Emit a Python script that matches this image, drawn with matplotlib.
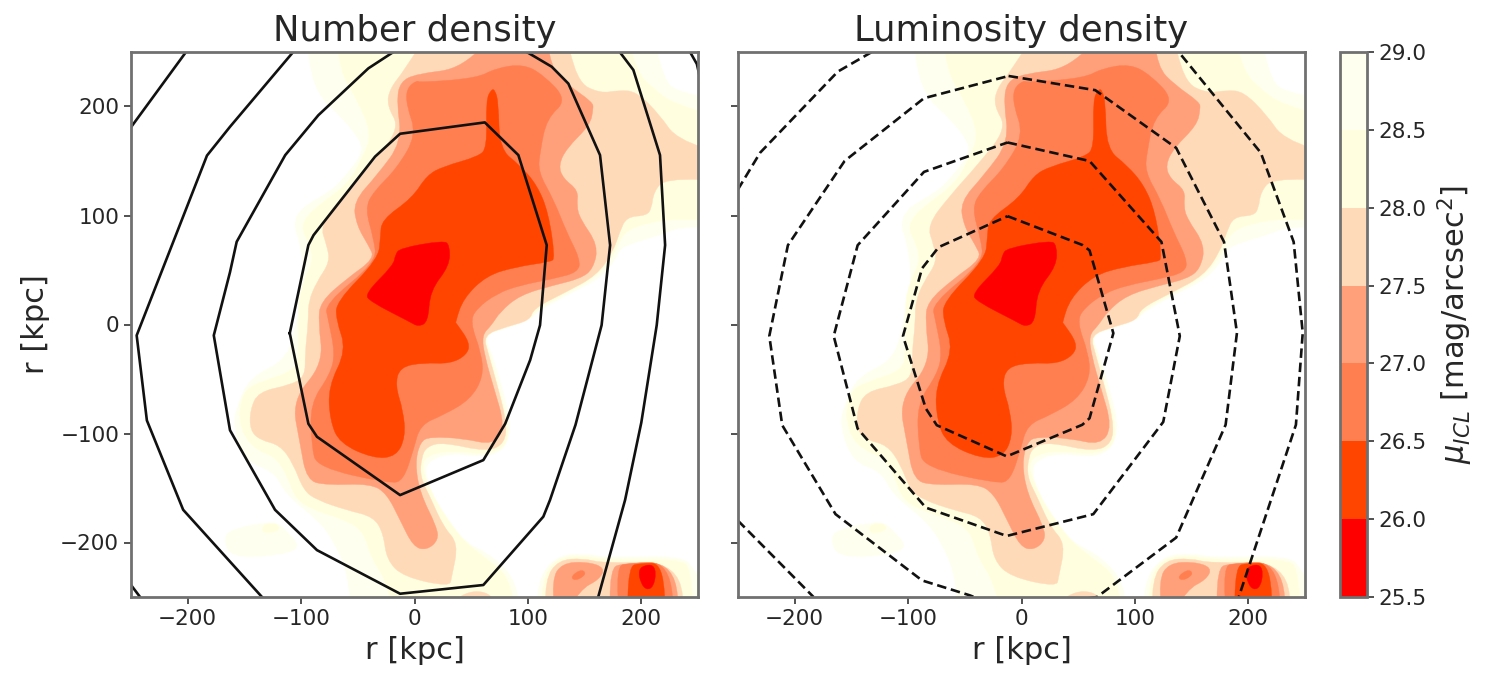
import numpy as np
import matplotlib
matplotlib.use('Agg')
import matplotlib.pyplot as plt
from matplotlib.colors import ListedColormap, BoundaryNorm
from matplotlib.cm import ScalarMappable
from matplotlib.path import Path
from matplotlib.patches import PathPatch

levels = [25.5, 26.0, 26.5, 27.0, 27.5, 28.0, 28.5, 29.0]
colors = ['red', 'orangered', 'coral', 'lightsalmon', 'peachpuff', 'lightyellow', 'ivory']
ticks_r = [-200, -100, 0, 100, 200]

# ICL map, outline of each surface brightness level in kpc
mu_290 = [
    [(-96.5,250),(-92,229),(-80,204),(-65.7,192),(-46.6,167.7),(-46.6,155.4),(-62.7,134),(-74.5,121.8),
     (-101,106.5),(-106.8,91),(-101,76),(-96.5,42),(-104,2),(-112.7,-32.6),(-145,-48),(-157,-75.5),
     (-159.8,-94),(-149,-125.8),(-123.4,-135),(-113.6,-156),(-84.4,-180),(-71.4,-198.5),(-58.4,-228.8),
     (-55,-250),(94,-250),(91,-238),(71.4,-213.6),(40,-197),(25.5,-176.4),(15,-155),(9,-134),(13.7,-124.4),
     (31.4,-118.3),(60.7,-121.4),(72.5,-118.3),(81,-110.6),(85.7,-90.8),(77,-57),(69.6,-29.6),(60.7,-9.7),
     (81,-3.5),(102,4),(107.7,11.6),(137,28.4),(163.6,42),(178,60.6),(181,69.7),(196,75.9),(216.5,82),
     (234,89.6),(250,89.6),(250,204.4),(231,213.6),(219.5,225.8),(207.7,250)],
    [(-169,-195),(-159,-187),(-123,-180),(-112,-190),(-100,-205),(-120,-212),(-162,-214)],
    [(108,-250),(108,-235),(125,-212),(150,-210),(170,-214),(236,-212),(247,-225),(250,-250)],
]
mu_285 = [
    [(-70,250),(-66,232),(-50,205),(-38,175),(-45,155),(-58,130),(-80,113),(-95,100),(-100,88),(-92,72),
     (-90,57),(-98,40),(-103,20),(-102,-25),(-105,-42),(-135,-52),(-150,-60),(-155,-80),(-152,-100),
     (-140,-115),(-122,-122),(-112,-140),(-105,-160),(-90,-170),(-60,-180),(-45,-190),(-38,-215),(-25,-235),
     (-15,-250),(90,-250),(85,-232),(60,-212),(45,-200),(30,-180),(15,-155),(6,-130),(12,-120),(31,-116),
     (62,-119),(75,-115),(82,-108),(83,-90),(74,-57),(67,-28),(61,-9.7),(81,-2.5),(102,5),(107,13),(134,29),
     (160.7,43),(178,66.7),(184,85),(208,94),(234,97),(250,94),(250,187.5),(228,202.8),(210.6,216.6),
     (196,232),(184,250)],
    [(-133,-183),(-122,-182),(-118,-188),(-128,-192),(-135,-190)],
    [(112,-250),(112,-235),(125,-214),(150,-212),(170,-216),(235,-215),(244,-225),(247,-250)],
]
mu_280 = [
    [(19.6,250),(-9.8,232),(-21.6,216.6),(-24.5,201),(-12.7,180),(-39,146),(-62.7,118.7),(-83.3,91),
     (-77.4,72.8),(-74.5,57.5),(-86.3,39),(-93.6,20.8),(-93.6,2.4),(-96.5,-26.5),(-96.5,-48),(-110,-55.6),
     (-137.7,-61.7),(-145,-78.5),(-145,-97),(-136.2,-106),(-118.6,-110.6),(-107,-127.5),(-98,-152),
     (-86.3,-161),(-59.8,-170.3),(-36,-176.4),(-27.5,-191.7),(-24.5,-216),(-9.8,-231.5),(31,-240.7),
     (32.8,-231.5),(38.7,-201),(25.5,-185.6),(13.7,-158),(5,-140),(6,-122),(10.8,-112),(25,-108),
     (63.7,-116.8),(80,-109),(81,-88),(72.5,-54),(65,-26.5),(60.7,-9.7),(81.3,-2),(102,4),(104.8,14.7),
     (134,30),(160.7,45),(175,66.7),(181,85),(187,98.8),(204.8,100),(209,106.5),(211,121.8),(221,134),
     (250,132),(250,154),(231,170),(216.5,192),(196,213.6),(181,215),(163.6,212),(143,222.7),(131,250)],
    [(17,-250),(40,-245),(70,-245),(78,-250)],
    [(116,-250),(115,-234.4),(126.8,-216),(149,-214.5),(166.5,-219),(234,-217.6),(238.6,-250)],
]
mu_275 = [
    [(81,250),(43,235),(2,230),(-12.7,222.7),(-15.7,204.4),(-11,167.7),(-33,137),(-54,112.6),(-51,91),
     (-40.7,72.8),(-35,60.6),(-59.8,42),(-83,20.8),(-84.8,2.4),(-80.4,-36),(-108,-69.4),(-101,-109),
     (-95,-143),(-77.4,-147.4),(-39,-146),(-24.5,-155),(-12.7,-179.5),(-1,-204),(10.8,-207),(21,-198),
     (19.6,-185.6),(5,-155),(0.5,-127.5),(5,-107.6),(13.7,-103),(43,-104.5),(69.6,-110.6),(80,-94),
     (69.6,-57),(62,-29.6),(59.3,-9.7),(68,-0.6),(75.4,11.6),(93,27),(122.5,36),(146,42),(157.7,51),
     (162,72.8),(146,97),(143,109),(144.5,123),(131,134),(127,146),(134,161.5),(154.8,183),(157.7,198),
     (157,204),(135,220),(120,236),(115,250)],
    [(121,-234.4),(129.8,-219),(151.8,-217.6),(168,-223),(163,-234),(146,-243),(125,-250)],
    [(172.4,-223.7),(184,-219),(229.8,-218.5),(234,-250),(172.4,-250)],
]
mu_270 = [
    [(4.85,222),(55,226),(71.4,235),(95.8,239),(113.6,229),(134.7,206),(116.6,189),(110.7,158.5),(109,140),
     (122.5,115),(134,85),(146,60),(144.5,48),(122.5,42),(93,36),(72.5,28.4),(54.8,14.7),(49,2.4),(59,-26.5),
     (60.7,-48),(49,-69),(25.5,-83),(5,-92),(-0.9,-115),(-9.8,-143),(-21.6,-146),(-86,-131),(-90.7,-112),
     (-92,-72.4),(-74.5,-46),(-70,-26.5),(-76,4),(-79,19),(-33.4,57.5),(-36,79),(-43.6,106.5),(-36,122),
     (-15.7,143),(1.9,174),(-7,201),(-7,216.6),(2,224)],
    [(137.7,-231.4),(146,-225),(151,-227),(149,-231.4),(141.5,-235)],
    [(178,-222),(188.6,-219),(225,-217.6),(229.8,-250),(181,-250)],
]
mu_265 = [
    [(68,216),(63,206),(64,162),(56,154),(25.5,145),(11,137),(-2,116),(-29,96),(-30,80.5),(-32,60),(-69,21),
     (-69,4),(-60,-23.5),(-76,-57),(-74.5,-88),(-66,-109),(-36,-123),(-16,-121),(-8,-103),(-10,-79),(-17,-56),
     (-13,-39),(8,-35),(31.4,-36),(46,-28),(49,-17),(37,1),(36,2),(43,24),(63.6,45),(90,53),(119.5,57.5),
     (124,60.6),(118,103),(108,128),(93,146),(75,161),(74,204),(71,215)],
    [(188.6,-222),(199,-219),(219.5,-219),(221.5,-250),(187.7,-250)],
]
mu_260 = [
    [(-13,70),(25.5,77),(31,73),(31,54),(13.7,31),(12,2.4),(3.4,-2),(-4,2.4),(-39,21),(-43.6,28.4),
     (-18.6,54.4),(-17,63.6)],
    [(197.4,-225),(203.3,-220.7),(210.6,-220.7),(213,-228.3),(210.6,-240.6),(204.8,-243.6),(199.5,-237.5)],
]
# darkest level last, painted on top of the lighter ones
icl_outlines = [(mu_290, 'ivory'), (mu_285, 'lightyellow'), (mu_280, 'peachpuff'), (mu_275, 'lightsalmon'),
                (mu_270, 'coral'), (mu_265, 'orangered'), (mu_260, 'red')]

# number density contours (left)
number_contours = [
    [(-110,-8),(-93.6,-91),(-86,-103),(-12.7,-156.5),(60.7,-124.4),(80,-91),(102,-32.6),(110.7,-0.6),
     (116.6,72.8),(91.6,155.4),(62,185.4),(-12.7,175),(-34.8,154),(-89,82),(-93.6,72.8),(-110,-8)],
    [(-18.6,250),(-40.7,235),(-84.8,192),(-114,155.4),(-156.8,75.9),(-162.7,48),(-177,-10),(-162.7,-97),
     (-123,-170),(-86,-207),(-12.7,-247),(60.7,-239),(113.6,-176.3),(119.5,-161),(142,-92),(165,-0.6),
     (172.5,72.8),(163.6,155.4),(135.7,221),(121,236.5),(99,250)],
    [(-107,250),(-162.7,181.4),(-183,155),(-245,-10),(-236,-88),(-204,-170),(-134.5,-250)],
    [(181,250),(193,233.5),(216.5,155.4),(221,72.8),(213.6,-0.6),(200,-90),(185.7,-161),(162,-250)],
    [(-201.5,250),(-250,181)],
    [(-250,-239),(-242,-250)],
    [(243,250),(249,239),(252,225)],
]
# luminosity density contours (right)
luminosity_contours = [
    [(-12.3,99.4),(53.6,73),(60,68),(81,-8),(60,-86),(53.6,-92),(-13,-121),(-74.7,-92.4),(-84.4,-77),
     (-104.5,-10.6),(-87.7,51.5),(-73,71),(-12.3,99.4)],
    [(-12.3,167),(60,150),(123.4,75.8),(139.6,-10.6),(125,-89.4),(63.3,-174),(-13,-194),(-84.4,-168),
     (-144.5,-95.5),(-165.6,-10.6),(-144.5,72.7),(-86,140),(-12.3,167)],
    [(-11.4,228),(65,215),(136.4,162),(178.6,75.8),(190,-7.6),(180,-92),(136.4,-195.5),(66.6,-250),(-13,-262),
     (-45.5,-248.5),(-87.7,-234.8),(-164,-174),(-211,-92.4),(-222.4,-10.6),(-206,72.7),(-156,150),(-86,207.6),
     (-11.4,228)],
    [(-132,250),(-162,232),(-230.5,157.6),(-250,124)],
    [(141,247),(211,157.6),(240,75.8),(248,-7.6),(242,-92),(191.6,-250)],
    [(-250,-180),(-183.4,-250)],
]

W, H = 1485, 673
plt.rcParams['font.family'] = 'DejaVu Sans'

def box(x0, y0, x1, y1):
    return [x0 / W, 1 - y1 / H, (x1 - x0) / W, (y1 - y0) / H]

def rounded_path(poly):
    # outline points used as control points of a closed quadratic curve,
    # points on the frame are pushed out so the rounding stays outside the axes
    pts = np.array(poly, dtype=float)
    pts[np.abs(pts) >= 250] *= 1.12
    mids = (pts + np.roll(pts, -1, axis=0)) / 2
    verts = [mids[-1]]
    codes = [Path.MOVETO]
    for p, m in zip(pts, mids):
        verts += [p, m]
        codes += [Path.CURVE3, Path.CURVE3]
    return Path(verts, codes)

def draw_panel(ax, contours, title, style):
    for outlines, col in icl_outlines:
        for poly in outlines:
            ax.add_patch(PathPatch(rounded_path(poly), facecolor=col, edgecolor=col, lw=0.3))
    for c in contours:
        xs, ys = zip(*c)
        ax.plot(xs, ys, color='#111111', lw=1.9, ls=style)
    ax.set_xlim(-250, 250)
    ax.set_ylim(-250, 250)
    ax.set_xticks(ticks_r)
    ax.set_yticks(ticks_r)
    ax.tick_params(labelsize=15.5, length=5, width=1.2, color='#333333', labelcolor='#262626')
    ax.set_xlabel('r [kpc]', fontsize=22, color='#262626', labelpad=5)
    ax.set_title(title, fontsize=25.5, color='#262626', pad=8)
    for s in ax.spines.values():
        s.set_color('#707070')
        s.set_linewidth(2)

fig = plt.figure(figsize=(W / 100, H / 100), dpi=100)
ax1 = fig.add_axes(box(131, 52, 698, 597))
ax2 = fig.add_axes(box(738, 52, 1305, 597))
cax = fig.add_axes(box(1340, 52, 1367, 597))

draw_panel(ax1, number_contours, 'Number density', '-')
draw_panel(ax2, luminosity_contours, 'Luminosity density', (0, (3.6, 1.8)))
ax1.set_ylabel('r [kpc]', fontsize=22, color='#262626', labelpad=7)
ax2.set_yticklabels([])

cmap = ListedColormap(colors)
norm = BoundaryNorm(levels, cmap.N)
cb = fig.colorbar(ScalarMappable(norm=norm, cmap=cmap), cax=cax, spacing='proportional', ticks=levels)
cb.ax.set_yticklabels(['%.1f' % v for v in levels])
cb.ax.tick_params(labelsize=15.5, length=5, width=1.2, color='#333333', labelcolor='#262626')
cb.set_label(r'$\mu_{ICL}$ [mag/arcsec$^2$]', fontsize=22, color='#262626', labelpad=6)
cb.outline.set_edgecolor('#707070')
cb.outline.set_linewidth(2)

fig.savefig('out.png', dpi=100)
